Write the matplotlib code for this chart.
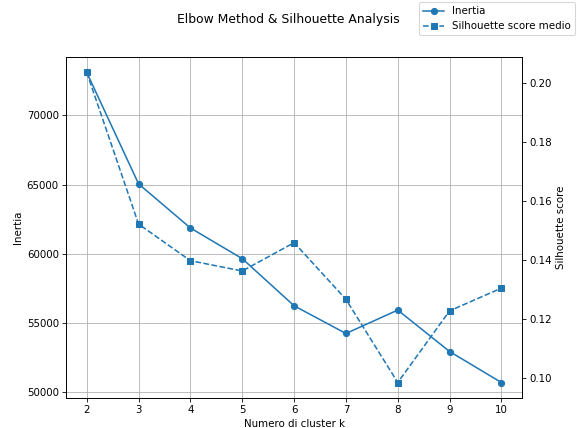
import matplotlib
matplotlib.use("Agg")
import matplotlib.pyplot as plt

k_values = [2, 3, 4, 5, 6, 7, 8, 9, 10]
inertia = [73116, 65050, 61860, 59640, 56230, 54225, 55920, 52920, 50676]
silhouette = [0.2037, 0.1523, 0.1399, 0.1364, 0.1460, 0.1268, 0.0986, 0.1229, 0.1306]

dpi = 74
fig, ax1 = plt.subplots(figsize=(577 / dpi, 428 / dpi), dpi=dpi)
fig.subplots_adjust(left=0.1144, right=0.905, bottom=0.070, top=0.867)

l1, = ax1.plot(k_values, inertia, marker='o', color='tab:blue', label='Inertia')
ax1.set_xlabel("Numero di cluster k")
ax1.set_ylabel("Inertia")
ax1.set_xticks(k_values)
ax1.grid(True)

ax2 = ax1.twinx()
l2, = ax2.plot(k_values, silhouette, marker='s', linestyle='--', color='tab:blue',
               label='Silhouette score medio')
ax2.set_ylabel("Silhouette score")

fig.suptitle("Elbow Method & Silhouette Analysis", y=0.97)
fig.legend(handles=[l1, l2], loc='upper right', borderaxespad=0.2)

plt.savefig("out.png")
